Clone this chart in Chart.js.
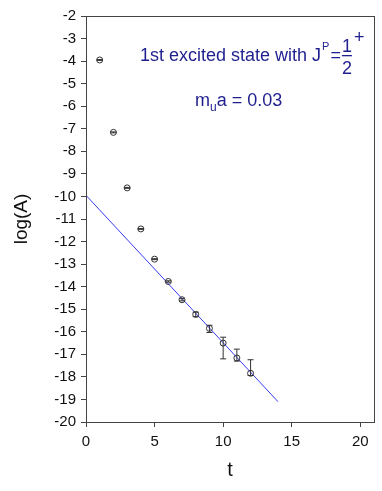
<!DOCTYPE html>
<html>
<head>
<meta charset="utf-8">
<script src="https://cdn.jsdelivr.net/npm/chart.js@4"></script>
<style>
  html, body { margin: 0; padding: 0; background: #fff; }
  #wrap { width: 382px; height: 491px; }
</style>
</head>
<body>
<div id="wrap"><canvas id="grafico" width="382" height="491"></canvas></div>
<script>
// dados
const tempos = [1, 2, 3, 4, 5, 6, 7, 8, 9, 10, 11, 12];
const logA = [-3.95, -7.16, -9.62, -11.44, -12.78, -13.77, -14.58, -15.23, -15.85, -16.5, -17.16, -17.84];
const erroSup = [0.02, 0.02, 0.02, 0.02, 0.02, 0.03, 0.05, 0.1, 0.14, 0.26, 0.39, 0.6];
const erroInf = [0.02, 0.02, 0.02, 0.02, 0.02, 0.03, 0.05, 0.1, 0.18, 0.7, 0.14, 0.1];
const ajusteT = [0, 14];
const ajusteY = [-9.95, -19.1];
const ticksX = [0, 5, 10, 15, 20];
const ticksY = [-2, -3, -4, -5, -6, -7, -8, -9, -10, -11, -12, -13, -14, -15, -16, -17, -18, -19, -20];

const fonte = "'Liberation Sans', Arial, sans-serif";
const azulEscuro = '#1f1f8f';
const ctx = document.getElementById('grafico').getContext('2d');

const barrasDeErro = {
  id: 'barrasDeErro',
  afterDatasetsDraw(chart) {
    const c = chart.ctx;
    const x = chart.scales.x, y = chart.scales.y;
    c.save();
    c.strokeStyle = '#333';
    c.lineWidth = 1;
    tempos.forEach((t, i) => {
      const px = x.getPixelForValue(t);
      const yt = y.getPixelForValue(logA[i] + erroSup[i]);
      const yb = y.getPixelForValue(logA[i] - erroInf[i]);
      c.beginPath();
      c.moveTo(px, yt); c.lineTo(px, yb);
      c.moveTo(px - 3, yt); c.lineTo(px + 3, yt);
      c.moveTo(px - 3, yb); c.lineTo(px + 3, yb);
      c.stroke();
    });
    // moldura
    const a = chart.chartArea;
    c.strokeStyle = '#444';
    c.strokeRect(a.left + 0.5, a.top + 0.5, a.right - a.left, a.bottom - a.top);
    c.restore();
  }
};

const textos = {
  id: 'textos',
  afterDraw(chart) {
    const c = chart.ctx;
    c.save();
    c.fillStyle = azulEscuro;
    c.textBaseline = 'alphabetic';
    c.textAlign = 'left';
    c.font = '18px ' + fonte;
    let x0 = 140, y0 = 61;
    const s1 = '1st excited state with J';
    c.fillText(s1, x0, y0);
    x0 += c.measureText(s1).width;
    c.font = '11px ' + fonte;
    c.fillText('P', x0 + 1, y0 - 11);
    x0 += c.measureText('P').width + 2;
    c.font = '18px ' + fonte;
    c.fillText('=', x0, y0);
    x0 += c.measureText('=').width + 1;
    c.fillText('1', x0, y0 - 9);
    c.fillText('2', x0, y0 + 13);
    c.fillRect(x0, y0 - 6, c.measureText('1').width, 1.3);
    c.fillText('+', x0 + c.measureText('1').width + 2, y0 - 18);
    // segunda linha
    let x1 = 195, y1 = 106;
    c.fillText('m', x1, y1);
    x1 += c.measureText('m').width;
    c.font = '12px ' + fonte;
    c.fillText('u', x1, y1 + 5);
    x1 += c.measureText('u').width;
    c.font = '18px ' + fonte;
    c.fillText('a = 0.03', x1, y1);
    c.restore();
  }
};

new Chart(ctx, {
  type: 'scatter',
  data: {
    datasets: [
      {
        data: tempos.map((t, i) => ({ x: t, y: logA[i] })),
        pointStyle: 'circle',
        pointRadius: 3,
        pointBorderColor: '#333',
        pointBackgroundColor: 'rgba(0,0,0,0)',
        pointBorderWidth: 1,
        showLine: false
      },
      {
        data: ajusteT.map((t, i) => ({ x: t, y: ajusteY[i] })),
        showLine: true,
        borderColor: '#3a3af5',
        borderWidth: 1,
        pointRadius: 0
      }
    ]
  },
  options: {
    responsive: false,
    animation: false,
    events: [],
    layout: { padding: { left: 0, top: 16, right: 8, bottom: 0 } },
    plugins: { legend: { display: false }, tooltip: { enabled: false } },
    scales: {
      x: {
        type: 'linear',
        min: 0, max: 21,
        afterBuildTicks: axis => { axis.ticks = ticksX.map(v => ({ value: v })); },
        afterFit: axis => { axis.height = 69; },
        grid: { drawOnChartArea: false, drawTicks: true, tickLength: 5, color: '#444' },
        border: { display: true, color: '#444' },
        ticks: { color: '#111', font: { family: fonte, size: 15 }, padding: 6, maxRotation: 0 },
        title: { display: true, text: 't', color: '#111', font: { family: fonte, size: 20 }, padding: { top: 0, bottom: 9 } }
      },
      y: {
        type: 'linear',
        min: -20, max: -2,
        afterBuildTicks: axis => { axis.ticks = ticksY.map(v => ({ value: v })); },
        afterFit: axis => { axis.width = 86; },
        grid: { drawOnChartArea: false, drawTicks: true, tickLength: 5, color: '#444' },
        border: { display: true, color: '#444' },
        ticks: { color: '#111', font: { family: fonte, size: 15 }, padding: 5 },
        title: { display: true, text: 'log(A)', color: '#111', font: { family: fonte, size: 19 }, padding: { top: 10, bottom: 0 } }
      }
    }
  },
  plugins: [barrasDeErro, textos]
});
</script>
</body>
</html>
